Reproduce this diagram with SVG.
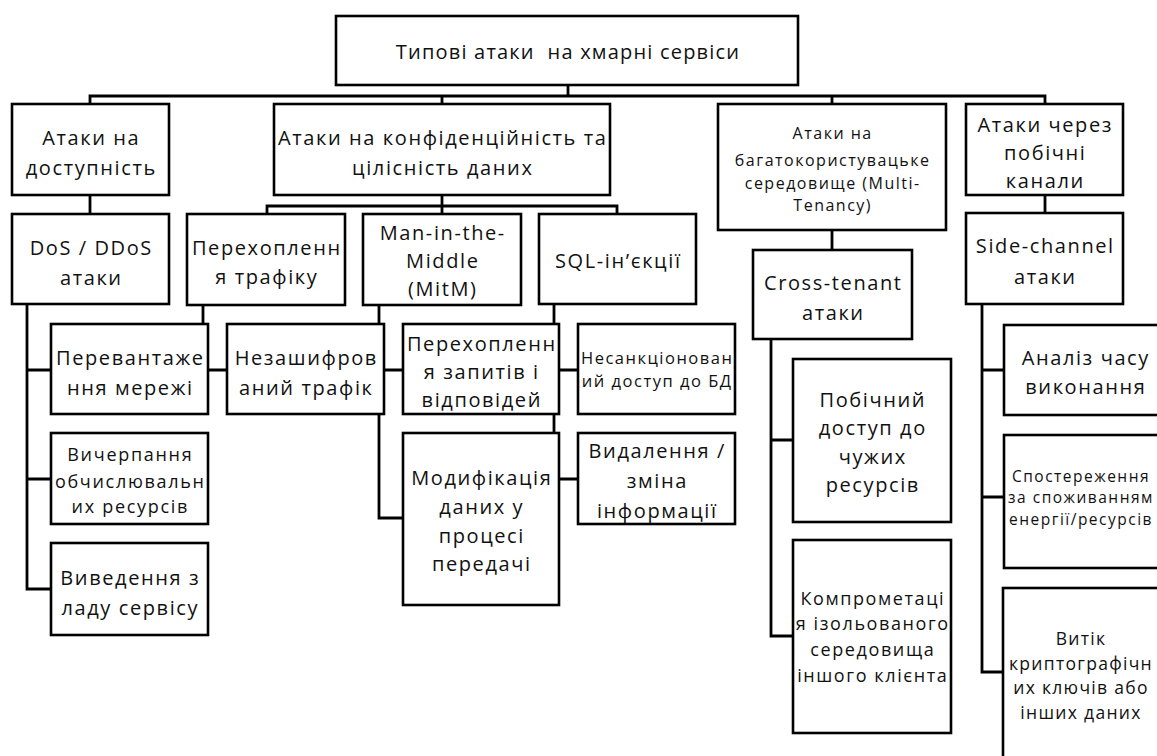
<svg xmlns="http://www.w3.org/2000/svg" width="1157" height="756" viewBox="0 0 1157 756">
<style>
.box{fill:#fff;stroke:#000;stroke-width:2.6}
.conn{fill:none;stroke:#000;stroke-width:2.8}
text{font-family:"Open Sans","Noto Sans",sans-serif;fill:#111;text-anchor:middle}
.big{font-size:20px;letter-spacing:1.6px}
.ttl{font-size:20px;letter-spacing:1.2px}
.mt{font-size:16px;letter-spacing:1.5px}
.ua{font-size:16.5px;letter-spacing:1.5px}
.ex{font-size:18px;letter-spacing:1.7px}
.cp{font-size:18px;letter-spacing:1.6px}
.pw{font-size:15.5px;letter-spacing:1.5px}
.lk{font-size:17.5px;letter-spacing:1.3px}
</style>
<rect x="0" y="0" width="1157" height="756" fill="#fff"/>
<g id="connectors">
<path class="conn" d="M568,85 V96 M90,104 V96 H1045 V104 M442,96 V104 M832,96 V104"/>
<path class="conn" d="M90,195 V214"/>
<path class="conn" d="M442,195 V214 M267,214 V206 H617 V214"/>
<path class="conn" d="M832,230 V250"/>
<path class="conn" d="M1045,195 V213"/>
<path class="conn" d="M27,304 V589 H51 M27,370 H51 M27,479 H51"/>
<path class="conn" d="M203,305 V370 H227"/>
<path class="conn" d="M379,305 V518 H403 M379,370 H403"/>
<path class="conn" d="M554,304 V479 H578 M554,370 H578"/>
<path class="conn" d="M771,339 V636 H793 M771,440 H793"/>
<path class="conn" d="M982,304 V672 H1003 M982,370 H1004 M982,497 H1004"/>
</g>
<g id="root"><rect class="box" x="336" y="16" width="462" height="69"/>
<text class="ttl" xml:space="preserve" x="568" y="59">Типові атаки  на хмарні сервіси</text></g>
<g id="n1"><rect class="box" x="12" y="104" width="157" height="91"/>
<text class="big"><tspan x="91.3" y="145">Атаки на</tspan><tspan x="91.3" y="175">доступність</tspan></text></g>
<g id="n2"><rect class="box" x="274" y="104" width="336" height="91"/>
<text class="big"><tspan x="442.8" y="145">Атаки на конфіденційність та</tspan><tspan x="442.8" y="175">цілісність даних</tspan></text></g>
<g id="n3"><rect class="box" x="718" y="104" width="228" height="126"/>
<text class="mt"><tspan x="832.7" y="139">Атаки на</tspan><tspan x="832.7" y="166">багатокористувацьке</tspan><tspan x="832.7" y="189">середовище (Multi-</tspan><tspan x="832.7" y="211">Tenancy)</tspan></text></g>
<g id="n4"><rect class="box" x="966" y="104" width="157" height="91"/>
<text class="big"><tspan x="1045.3" y="132">Атаки через</tspan><tspan x="1045.3" y="160">побічні</tspan><tspan x="1045.3" y="188">канали</tspan></text></g>
<g id="dos"><rect class="box" x="12" y="214" width="157" height="90"/>
<text class="big"><tspan x="91.3" y="255">DoS / DDoS</tspan><tspan x="91.3" y="285">атаки</tspan></text></g>
<g id="pt"><rect class="box" x="187" y="214" width="158" height="91"/>
<text class="big"><tspan x="266.8" y="255">Перехопленн</tspan><tspan x="266.8" y="284">я трафіку</tspan></text></g>
<g id="mitm"><rect class="box" x="363" y="214" width="158" height="91"/>
<text class="big"><tspan x="442.8" y="240">Man-in-the-</tspan><tspan x="442.8" y="268">Middle</tspan><tspan x="442.8" y="296">(MitM)</tspan></text></g>
<g id="sql"><rect class="box" x="539" y="214" width="157" height="90"/>
<text class="big"><tspan x="618.3" y="268">SQL-ін’єкції</tspan></text></g>
<g id="overload"><rect class="box" x="51" y="324" width="157" height="90"/>
<text class="big"><tspan x="130.3" y="365">Перевантаже</tspan><tspan x="130.3" y="395">ння мережі</tspan></text></g>
<g id="exhaust"><rect class="box" x="51" y="433" width="157" height="91"/>
<text class="ex"><tspan x="130.3" y="461">Вичерпання</tspan><tspan x="130.3" y="488">обчислювальн</tspan><tspan x="130.3" y="513">их ресурсів</tspan></text></g>
<g id="down"><rect class="box" x="51" y="543" width="157" height="92"/>
<text class="big"><tspan x="130.3" y="585">Виведення з</tspan><tspan x="130.3" y="615">ладу сервісу</tspan></text></g>
<g id="unenc"><rect class="box" x="227" y="324" width="157" height="90"/>
<text class="big"><tspan x="306.3" y="365">Незашифров</tspan><tspan x="306.3" y="395">аний трафік</tspan></text></g>
<g id="intercept"><rect class="box" x="403" y="324" width="156" height="90"/>
<text class="big"><tspan x="481.8" y="351">Перехопленн</tspan><tspan x="481.8" y="379">я запитів і</tspan><tspan x="481.8" y="407">відповідей</tspan></text></g>
<g id="modify"><rect class="box" x="403" y="433" width="156" height="172"/>
<text class="big"><tspan x="481.8" y="485">Модифікація</tspan><tspan x="481.8" y="514">даних у</tspan><tspan x="481.8" y="543">процесі</tspan><tspan x="481.8" y="571">передачі</tspan></text></g>
<g id="unauth"><rect class="box" x="578" y="324" width="157" height="90"/>
<text class="ua"><tspan x="657.2" y="364">Несанкціонован</tspan><tspan x="657.2" y="387">ий доступ до БД</tspan></text></g>
<g id="delete"><rect class="box" x="578" y="433" width="157" height="91"/>
<text class="big"><tspan x="657.3" y="458">Видалення /</tspan><tspan x="657.3" y="488">зміна</tspan><tspan x="657.3" y="518">інформації</tspan></text></g>
<g id="cross"><rect class="box" x="753" y="250" width="159" height="89"/>
<text class="big"><tspan x="833.3" y="290">Cross-tenant</tspan><tspan x="833.3" y="320">атаки</tspan></text></g>
<g id="sideacc"><rect class="box" x="793" y="359" width="158" height="163"/>
<text class="big"><tspan x="872.8" y="407">Побічний</tspan><tspan x="872.8" y="435">доступ до</tspan><tspan x="872.8" y="464">чужих</tspan><tspan x="872.8" y="492">ресурсів</tspan></text></g>
<g id="compromise"><rect class="box" x="793" y="540" width="158" height="193"/>
<text class="cp"><tspan x="872.8" y="605">Компрометаці</tspan><tspan x="872.8" y="630">я ізольованого</tspan><tspan x="872.8" y="656">середовища</tspan><tspan x="872.8" y="682">іншого клієнта</tspan></text></g>
<g id="side"><rect class="box" x="966" y="213" width="157" height="91"/>
<text class="big"><tspan x="1045.3" y="253">Side-channel</tspan><tspan x="1045.3" y="284">атаки</tspan></text></g>
<g id="timing"><rect class="box" x="1004" y="325" width="164" height="90"/>
<text class="big"><tspan x="1085.8" y="365">Аналіз часу</tspan><tspan x="1085.8" y="394">виконання</tspan></text></g>
<g id="power"><rect class="box" x="1004" y="435" width="164" height="133"/>
<text class="pw"><tspan x="1081" y="481.5">Спостереження</tspan><tspan x="1081" y="503">за споживанням</tspan><tspan x="1081" y="524.5">енергії/ресурсів</tspan></text></g>
<g id="leak"><rect class="box" x="1003" y="588" width="164" height="180"/>
<text class="lk"><tspan x="1081" y="645">Витік</tspan><tspan x="1081" y="670">криптографічн</tspan><tspan x="1081" y="694">их ключів або</tspan><tspan x="1081" y="719">інших даних</tspan></text></g>
</svg>
